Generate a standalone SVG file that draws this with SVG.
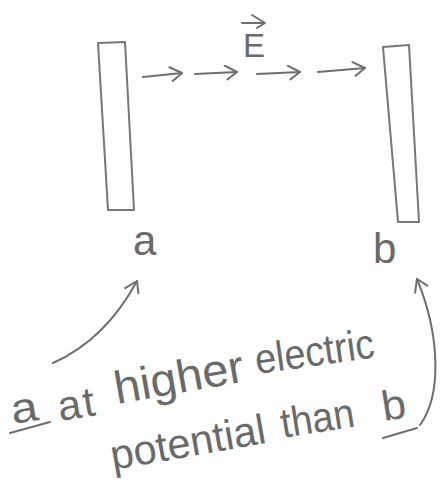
<svg xmlns="http://www.w3.org/2000/svg" width="443" height="497" viewBox="0 0 443 497">
<style>
.ink{fill:none;stroke:#6f6f6f;stroke-width:2;stroke-linecap:round;stroke-linejoin:round}
.plate{fill:#fff;stroke:#777;stroke-width:2;stroke-linejoin:round}
.hand{font-family:"Liberation Sans",Arial,sans-serif;fill:#6a6a6a}
.note{font-size:42px}
</style>
<defs>
<marker id="head" markerUnits="userSpaceOnUse" markerWidth="20" markerHeight="20" refX="14" refY="8" orient="auto">
<path d="M2,1 L14,8 L4,15" fill="none" stroke="#6f6f6f" stroke-width="2" stroke-linecap="round" stroke-linejoin="round"/>
</marker>
</defs>
<rect width="443" height="497" fill="#fff"/>
<g id="plate-a"><polygon class="plate" points="98,43 125,42 134,210 108,210"/></g>
<g id="plate-b"><polygon class="plate" points="383,47 409,45 419,222 398,222"/></g>
<g id="field">
<path class="ink" d="M242,23 L265,23 M252,15 L265,23 L257,28"/>
<text class="hand" x="243" y="57" font-size="33">E</text>
</g>
<g id="label-a"><text class="hand" x="133" y="255" font-size="42">a</text></g>
<g id="label-b"><text class="hand" x="373" y="263" font-size="42">b</text></g>
<g id="note">
<text class="hand note" x="13" y="424" textLength="27" lengthAdjust="spacingAndGlyphs" transform="rotate(-9 13 424)">a</text>
<text class="hand note" x="60" y="421" textLength="37" lengthAdjust="spacing" transform="rotate(-9 60 421)">at</text>
<text class="hand" font-size="46" x="117" y="404" textLength="131" lengthAdjust="spacingAndGlyphs" transform="rotate(-10 117 404)">higher</text>
<text class="hand note" x="257" y="374" textLength="120" lengthAdjust="spacingAndGlyphs" transform="rotate(-8 257 374)">electric</text>
<text class="hand note" x="113" y="470" textLength="157" lengthAdjust="spacingAndGlyphs" transform="rotate(-10 113 470)">potential</text>
<text class="hand note" x="283" y="438" textLength="74" lengthAdjust="spacingAndGlyphs" transform="rotate(-9 283 438)">than</text>
<text class="hand note" x="384" y="421" textLength="24" lengthAdjust="spacingAndGlyphs" transform="rotate(-9 384 421)">b</text>
<path class="ink" d="M10,433 L50,422 M383,438 L417,428"/>
</g>
<g id="connectors">
<path class="ink" marker-end="url(#head)" d="M143,77 L182,73"/>
<path class="ink" marker-end="url(#head)" d="M195,74 L237,72"/>
<path class="ink" marker-end="url(#head)" d="M257,74 L300,72"/>
<path class="ink" marker-end="url(#head)" d="M318,72 L365,68"/>
<path class="ink" marker-end="url(#head)" d="M53,363 Q105,340 137,281"/>
<path class="ink" marker-end="url(#head)" d="M420,425 C442,395 440,335 417,279"/>
</g>
</svg>
